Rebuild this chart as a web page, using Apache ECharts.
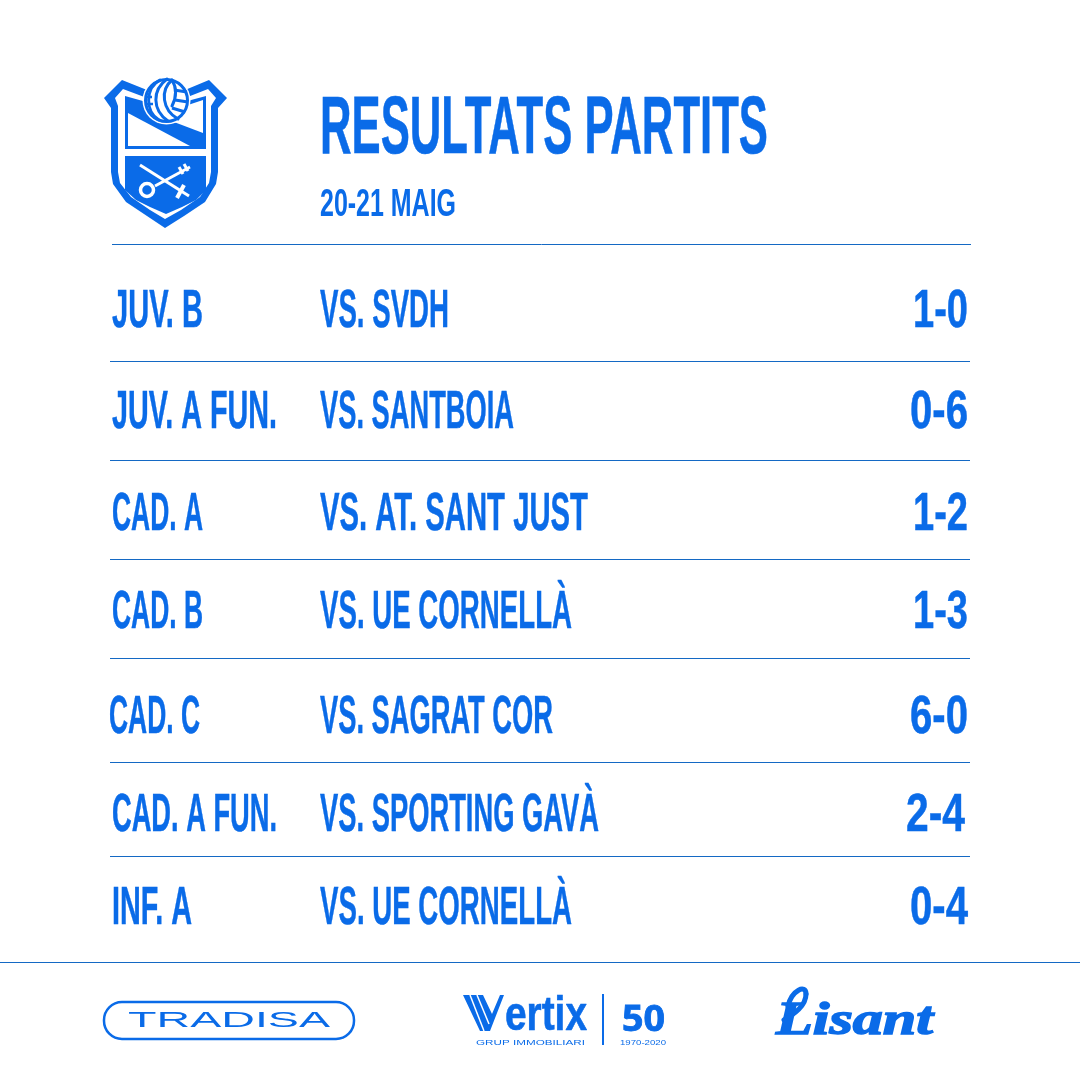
<!DOCTYPE html>
<html><head><meta charset="utf-8">
<style>html,body{margin:0;padding:0;background:#fff}#c{width:1080px;height:1080px}</style>
<script src="https://cdn.jsdelivr.net/npm/echarts@6/dist/echarts.min.js"></script>
</head><body><div id="c"></div>
<script>
// ---- content ----
const titleText = 'RESULTATS PARTITS';
const dateText = '20-21 MAIG';
const teams = ['JUV. B','JUV. A FUN.','CAD. A','CAD. B','CAD. C','CAD. A FUN.','INF. A'];
const opponents = ['VS. SVDH','VS. SANTBOIA','VS. AT. SANT JUST','VS. UE CORNELLÀ','VS. SAGRAT COR','VS. SPORTING GAVÀ','VS. UE CORNELLÀ'];
const scores = ['1-0','0-6','1-2','1-3','6-0','2-4','0-4'];

// ---- layout (pixels of the 1080 page) ----
const rowY = [312,413,515,613,718,816,909];
const teamX = [112,112,112,112,109,112,112];
const teamW = [91,165,91,91,91,165,80];
const oppX = 320;
const oppW = [129,194,268,252,233,279,252];
const scoreX = [913,910,913,913,910,906,910];
const scoreW = [55,58,55,55,58,59,58];
const rules = [[112,971,244],[110,970,361],[110,970,460],[110,970,559],[110,970,658],[110,970,762],[110,970,856],[0,1080,962]];

const BLUE = '#0a6be8', LINE = '#1469c4';
const NARROW = '"Liberation Sans Narrow","Liberation Sans",sans-serif';
const mctx = document.createElement('canvas').getContext('2d');
function fitText(text, x, cy, cap, width, family, weight, style, bold) {
  const size = Math.round(cap / 0.72);
  const font = (style ? style + ' ' : '') + (weight || 'bold') + ' ' + size + 'px ' + (family || NARROW);
  mctx.font = font;
  const m = mctx.measureText(text).width;
  return { type:'text', silent:true, x:x, y:cy, scaleX:width/m, scaleY:1,
    style:{ text:text, font:font, fill:BLUE, textAlign:'left', textVerticalAlign:'middle',
            stroke: bold ? BLUE : null, lineWidth: bold || 0 } };
}
const poly = (pts, fill) => ({type:'polygon', silent:true, shape:{points:pts}, style:{fill:fill}});
const bez = (a,b,c,d,w,col) => ({type:'bezierCurve', silent:true, shape:{x1:a[0],y1:a[1],cpx1:b[0],cpy1:b[1],cpx2:c[0],cpy2:c[1],x2:d[0],y2:d[1]}, style:{stroke:col||BLUE,lineWidth:w||2,fill:null,lineCap:'round'}});
const seg = (x1,y1,x2,y2,w,col,cap) => ({type:'line', silent:true, shape:{x1,y1,x2,y2}, style:{stroke:col||BLUE,lineWidth:w||1,lineCap:cap||'butt'}});

// crest
const crest = [
  poly([[104,98],[122,80],[147,90],[185,90],[209,80],[227,98],[218,108],[218,172],[216,184],[205,202],[184,216],[165,228],[147,216],[126,202],[113,184],[111,172],[111,108]],BLUE),
  poly([[115,98],[123,89],[147,98],[185,98],[208,89],[216,98],[211,106],[211,172],[209,183],[200,197],[181,210],[165,219],[150,210],[131,197],[120,183],[118,172],[118,106]],'#fff'),
  poly([[125,96],[150,103],[180,103],[206,96],[206,149],[125,149]],BLUE),
  poly([[128,113],[190,146],[128,146]],'#fff'),
  poly([[174,122],[188,105],[203,100],[203,133]],'#fff'),
  poly([[125,156],[206,156],[206,190],[196,200],[182,207],[166,214],[150,207],[136,200],[125,190]],BLUE),
  seg(140,165,189,196,3,'#fff'),
  seg(155,186,190,167,3,'#fff'),
  seg(179,167,183,174,3,'#fff'), seg(184,164,188,171,3,'#fff'),
  seg(177,198,184,185,4,'#fff'),
  {type:'circle',silent:true,shape:{cx:147,cy:190,r:6.5},style:{fill:BLUE,stroke:'#fff',lineWidth:3.5}},
  {type:'circle',silent:true,shape:{cx:166.5,cy:100.5,r:24},style:{fill:'#fff'}},
  {type:'circle',silent:true,shape:{cx:166.5,cy:100.5,r:21},style:{fill:'#fff',stroke:BLUE,lineWidth:3}},
  bez([160,80],[145,88],[145,112],[159,120],3),
  bez([167,79],[152,90],[152,110],[168,121],3),
  bez([172,80],[160,90],[162,110],[178,119],3),
  bez([172,80],[177,88],[177,96],[172,106],3),
  seg(174,90,187,92,3), seg(175,100,188,102,3), seg(172,108,185,112,3),
  seg(146,97,152,97,2.5), seg(146,104,153,104,2.5)
];

// sponsors
const sponsors = [
  {type:'rect',silent:true,shape:{x:104,y:1002,width:250,height:37,r:18},style:{fill:'#fff',stroke:BLUE,lineWidth:2.5}},
  fitText('TRADISA',128,1021,16,202,'"Liberation Sans"','normal'),
  poly([[463,995],[483,995],[492,1014],[500,995],[504,995],[490,1031],[480,1031]],BLUE),
  seg(470,995,484,1031,1.5,'#fff'), seg(477,995,489,1024,1.5,'#fff'),
  fitText('ertix',505,1017,34.5,82,'"Liberation Sans"','bold',null,0.6),
  fitText('GRUP IMMOBILIARI',476,1043,5,109,'"Liberation Sans"','normal'),
  {type:'rect',silent:true,shape:{x:602,y:994,width:2,height:51},style:{fill:BLUE}},
  fitText('50',622,1021,25,43,'"Open Sans"','bold',null,0.8),
  fitText('1970-2020',620,1043,5.5,46,'"Liberation Sans"','normal'),
  fitText('Lisant',776,1022,34,157,'"Liberation Serif"','bold','italic',1.5),
  bez([788,1006],[792,990],[806,984],[806,994],5),
  bez([806,994],[806,1006],[794,1014],[784,1020],5)
];

const head = [
  fitText(titleText,320,130,59,448,NARROW,'bold',null,0.6),
  fitText(dateText,320,205,28,136,NARROW,'bold')
];
const ruleEls = rules.map(r => seg(r[0],r[2]+0.5,r[1],r[2]+0.5,1,LINE));

const chart = echarts.init(document.getElementById('c'), null, {renderer:'canvas'});
chart.setOption({
  animation:false,
  backgroundColor:'#fff',
  grid:{left:0,right:0,top:0,bottom:0},
  xAxis:{type:'value',min:0,max:1080,show:false},
  yAxis:{type:'value',min:0,max:1080,inverse:true,show:false},
  graphic:{elements:[...ruleEls,...crest,...head,...sponsors]},
  series:[{
    type:'custom', coordinateSystem:'cartesian2d', silent:true,
    data:teams.map((t,i)=>[teamX[i],rowY[i],i]),
    encode:{x:0,y:1},
    renderItem:(params,api)=>{
      const i = api.value(2);
      const y = api.coord([0,rowY[i]])[1];
      const cap = 39;
      return {type:'group',children:[
        fitText(teams[i],api.coord([teamX[i],0])[0],y,cap,teamW[i],NARROW,'bold',null,0.5),
        fitText(opponents[i],api.coord([oppX,0])[0],y,cap,oppW[i],NARROW,'bold',null,0.5),
        fitText(scores[i],api.coord([scoreX[i],0])[0],y,cap,scoreW[i],NARROW,'bold',null,0.5)
      ]};
    }
  }]
});
</script></body></html>
